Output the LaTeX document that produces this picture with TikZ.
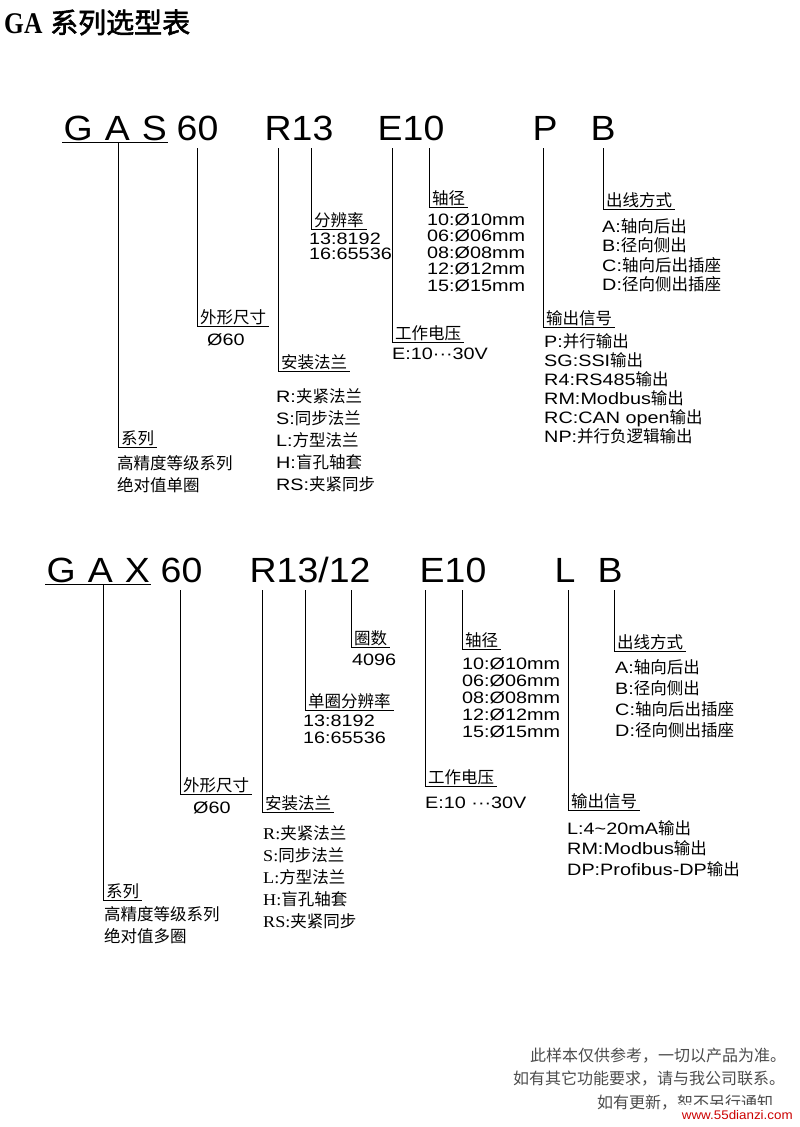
\documentclass[tikz,border=0pt]{standalone}
\usepackage{fontspec}
\setmainfont[FakeStretch=1.2]{Liberation Sans}
\newfontfamily\cjk{Noto Sans CJK SC}
\newfontfamily\cjkbold[FakeBold=2]{Noto Sans CJK SC}
\newfontfamily\codefont[FakeStretch=1.07]{Liberation Sans}
\newfontfamily\serifletters[FakeStretch=1.1]{Liberation Serif}
\newfontfamily\titlefont[FakeStretch=0.85]{Liberation Serif}
\newcommand\zh[1]{{\cjk #1}}
\newcommand\sr[1]{{\serifletters #1}}

\begin{document}
\begin{tikzpicture}[x=1pt, y=-1pt,
	lead/.style={line width=0.9pt},
	code/.style={anchor=base west, inner sep=1.5pt, font=\codefont\fontsize{35}{35}\selectfont},
	lbl/.style={anchor=south west, inner xsep=3pt, inner ysep=0.5pt, font=\cjk\fontsize{16.5}{16.5}\selectfont},
	lst/.style={anchor=north west, inner sep=0pt, align=left, font=\fontsize{16.5}{#1}\selectfont},
	zlst/.style={lst=#1, font=\cjk\fontsize{16.5}{#1}\selectfont},
	note/.style={anchor=base west, inner sep=0pt, text=black!70, font=\cjk\fontsize{16}{16}\selectfont}]
			\path[fill=white, use as bounding box] (0,0) rectangle (800,1127);
			
			\node[anchor=base west, inner sep=0pt, font=\titlefont\bfseries\fontsize{30}{30}\selectfont] (tga) at (4,33) {GA};
			\node[anchor=base west, inner sep=0pt, font=\cjkbold\fontsize{28}{28}\selectfont] (tsel) at (50,33) {系列选型表};
			
			\node[code] (gas) at (62,140) {G\kern12pt A\kern12pt S};
			\node[code] (c60) at (175,140) {60};
			\node[code] (cr13) at (263,140) {R13};
			\node[code] (ce10) at (376,140) {E10};
			\node[code] (cp) at (531,140) {P};
			\node[code] (cb) at (589,140) {B};
			
			\coordinate (a60) at (197,148);
			\coordinate (aR) at (278,148);
			\coordinate (a13) at (311,148);
			\coordinate (aE) at (392,148);
			\coordinate (a10) at (429,148);
			\coordinate (aP) at (543,148);
			\coordinate (aB) at (603,148);
			
			\node[lbl] (lser) at (118,447) {系列};
			\node[lbl] (l60) at (197,326) {外形尺寸};
			\node[lbl] (lR) at (278,371) {安装法兰};
			\node[lbl] (l13) at (311,229) {分辨率};
			\node[lbl] (lE) at (392,342) {工作电压};
			\node[lbl] (l10) at (429,207) {轴径};
			\node[lbl] (lP) at (543,327) {输出信号};
			\node[lbl] (lB) at (603,209) {出线方式};
			
			\node[zlst=22] (dser) at (117,455) {高精度等级系列\\绝对值单圈};
			\node[lst=17] (d60) at (207,333) {Ø60};
			\node[lst=22] (dR) at (276,388) {R:\zh{夹紧法兰}\\S:\zh{同步法兰}\\L:\zh{方型法兰}\\H:\zh{盲孔轴套}\\RS:\zh{夹紧同步}};
			\node[lst=15] (d13) at (309,233) {13:8192\\16:65536};
			\node[lst=17] (dE) at (392,348) {E:10···30V};
			\node[lst=16.5] (d10) at (427,213) {10:Ø10mm\\06:Ø06mm\\08:Ø08mm\\12:Ø12mm\\15:Ø15mm};
			\node[lst=19] (dP) at (544,333) {P:\zh{并行输出}\\SG:SSI\zh{输出}\\R4:RS485\zh{输出}\\RM:Modbus\zh{输出}\\RC:CAN open\zh{输出}\\NP:\zh{并行负逻辑输出}};
			\node[lst=19.5] (dB) at (602,218) {A:\zh{轴向后出}\\B:\zh{径向侧出}\\C:\zh{轴向后出插座}\\D:\zh{径向侧出插座}};
			
			\draw[lead] (gas.south west) -- (gas.south east);
			\draw[lead] ([xshift=3pt]gas.south) |- (lser.south east);
			\draw[lead] (a60) |- (l60.south east);
			\draw[lead] (aR) |- (lR.south east);
			\draw[lead] (a13) |- (l13.south east);
			\draw[lead] (aE) |- (lE.south east);
			\draw[lead] (a10) |- (l10.south east);
			\draw[lead] (aP) |- (lP.south east);
			\draw[lead] (aB) |- (lB.south east);
			
			\node[code] (gax) at (45,582) {G\kern12pt A\kern12pt X};
			\node[code] (c60b) at (159,582) {60};
			\node[code] (cr1312) at (248,582) {R13/12};
			\node[code] (ce10b) at (418,582) {E10};
			\node[code] (cl) at (553,582) {L};
			\node[code] (cbb) at (596,582) {B};
			
			\coordinate (b60) at (180,590);
			\coordinate (bR) at (262,590);
			\coordinate (b13) at (305,590);
			\coordinate (b12) at (351,590);
			\coordinate (bE) at (425,590);
			\coordinate (b10) at (462,590);
			\coordinate (bL) at (568,590);
			\coordinate (bB) at (614,590);
			
			\node[lbl] (mser) at (103,900) {系列};
			\node[lbl] (m60) at (180,794) {外形尺寸};
			\node[lbl] (mR) at (262,812) {安装法兰};
			\node[lbl] (m13) at (305,710) {单圈分辨率};
			\node[lbl] (m12) at (351,647) {圈数};
			\node[lbl] (mE) at (425,786) {工作电压};
			\node[lbl] (m10) at (462,649) {轴径};
			\node[lbl] (mL) at (568,810) {输出信号};
			\node[lbl] (mB) at (614,651) {出线方式};
			
			\node[zlst=22] (eser) at (104,906) {高精度等级系列\\绝对值多圈};
			\node[lst=17] (e60) at (193,801) {Ø60};
			\node[lst=22] (eR) at (263,825) {\sr{R:}\zh{夹紧法兰}\\\sr{S:}\zh{同步法兰}\\\sr{L:}\zh{方型法兰}\\\sr{H:}\zh{盲孔轴套}\\\sr{RS:}\zh{夹紧同步}};
			\node[lst=16.5] (e13) at (303,715) {13:8192\\16:65536};
			\node[lst=17] (e12) at (352,654) {4096};
			\node[lst=17] (eE) at (425,797) {E:10 ···30V};
			\node[lst=17] (e10) at (462,657) {10:Ø10mm\\06:Ø06mm\\08:Ø08mm\\12:Ø12mm\\15:Ø15mm};
			\node[lst=20.5] (eL) at (567,820) {L:4\textasciitilde20mA\zh{输出}\\RM:Modbus\zh{输出}\\DP:Profibus-DP\zh{输出}};
			\node[lst=21] (eB) at (615,659) {A:\zh{轴向后出}\\B:\zh{径向侧出}\\C:\zh{轴向后出插座}\\D:\zh{径向侧出插座}};
			
			\draw[lead] (gax.south west) -- (gax.south east);
			\draw[lead] ([xshift=5pt]gax.south) |- (mser.south east);
			\draw[lead] (b60) |- (m60.south east);
			\draw[lead] (bR) |- (mR.south east);
			\draw[lead] (b13) |- (m13.south east);
			\draw[lead] (b12) |- (m12.south east);
			\draw[lead] (bE) |- (mE.south east);
			\draw[lead] (b10) |- (m10.south east);
			\draw[lead] (bL) |- (mL.south east);
			\draw[lead] (bB) |- (mB.south east);
			
			\node[note] (n1) at (530,1061) {此样本仅供参考，一切以产品为准。};
			\node[note] (n2) at (513,1084) {如有其它功能要求，请与我公司联系。};
			\node[note] (n3) at (597,1108) {如有更新，恕不另行通知};
			\node[anchor=south east, fill=white, inner sep=0pt, minimum width=125pt, text height=15pt, text depth=7pt, text=red!80!black, font=\codefont\fontsize{12.5}{12.5}\selectfont] (wm) at (800,1127) {www.55dianzi.com};
		\end{tikzpicture}
\end{document}
